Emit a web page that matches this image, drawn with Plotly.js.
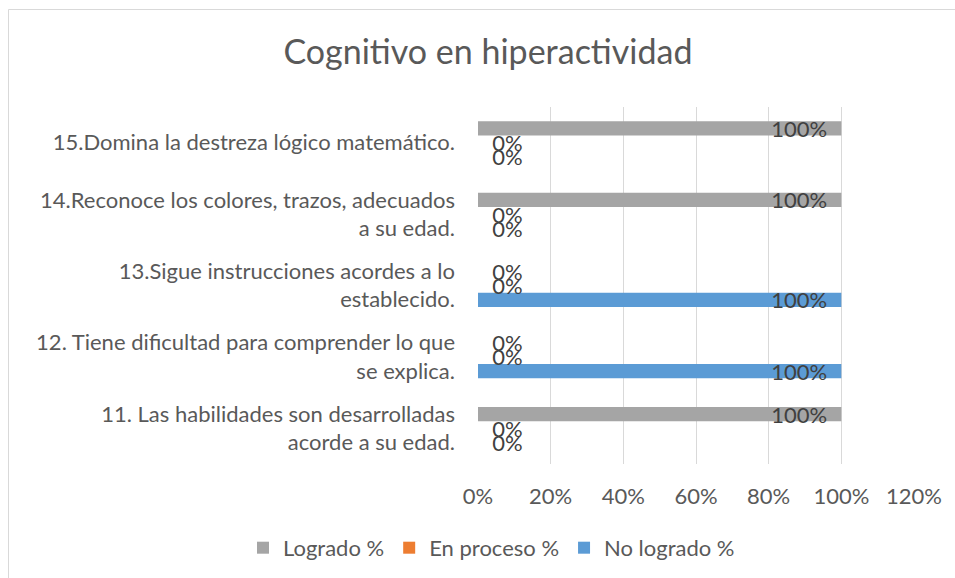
<!DOCTYPE html>
<html>
<head>
<meta charset="utf-8">
<script src="https://cdn.plot.ly/plotly-3.0.1.min.js"></script>
<style>html,body{margin:0;padding:0;background:#fff;}#chart{width:955px;height:578px;}</style>
</head>
<body>
<div id="chart"></div>
<script>
// Categories (bottom to top)
var categories = [
  "11. Las habilidades son desarrolladas<br>acorde a su edad.",
  "12. Tiene dificultad para comprender lo que<br>se explica.",
  "13.Sigue instrucciones acordes a lo<br>establecido.",
  "14.Reconoce los colores, trazos, adecuados<br>a su edad.",
  "15.Domina la destreza lógico matemático."
];
var logrado = [1.00, 0.00, 0.00, 1.00, 1.00];
var enProceso = [0.00, 0.00, 0.00, 0.00, 0.00];
var noLogrado = [0.00, 1.00, 1.00, 0.00, 0.00];
var xTickVals = [0, 0.2, 0.4, 0.6, 0.8, 1.0, 1.2];

function positions(vals){ return vals.map(function(v){ return v > 0 ? 'inside' : 'outside'; }); }
function templates(vals){ return vals.map(function(v){ return v > 0 ? '%{x:.0%}  ' : '  %{x:.0%}'; }); }

var FONT = 'Lato, sans-serif';
var common = {
  type: 'bar', orientation: 'h', y: categories,
  textfont: {family: FONT, size: 22, color: '#404040'},
  insidetextanchor: 'end',
  constraintext: 'none',
  cliponaxis: false,
  hoverinfo: 'none'
};

var traces = [
  Object.assign({}, common, {name: 'No logrado %', x: noLogrado, texttemplate: templates(noLogrado), textposition: positions(noLogrado), marker: {color: '#5b9bd5'}}),
  Object.assign({}, common, {name: 'En proceso %', x: enProceso, texttemplate: templates(enProceso), textposition: positions(enProceso), marker: {color: '#ed7d31'}}),
  Object.assign({}, common, {name: 'Logrado %', x: logrado, texttemplate: templates(logrado), textposition: positions(logrado), marker: {color: '#a5a5a5'}})
];

var layout = {
  width: 955, height: 578,
  paper_bgcolor: '#ffffff', plot_bgcolor: '#ffffff',
  margin: {l: 478, r: 41, t: 107, b: 114, autoexpand: false},
  font: {family: FONT, color: '#595959', size: 22},
  title: {text: 'Cognitivo en hiperactividad', font: {family: FONT, size: 34, color: '#595959'},
          x: 0.511, xanchor: 'center', y: 0.91, yanchor: 'middle', yref: 'container'},
  barmode: 'group', bargap: 0.4, bargroupgap: 0,
  xaxis: {range: [0, 1.2], tickvals: xTickVals, tickformat: '.0%', showgrid: true, gridcolor: '#d9d9d9', gridwidth: 1,
          zeroline: false, showline: false, ticks: '', ticklabelstandoff: 17,
          tickfont: {family: FONT, size: 22, color: '#595959'}, fixedrange: true},
  yaxis: {type: 'category', showgrid: false, zeroline: false, showline: false, ticks: '', ticklabelstandoff: 22,
          tickfont: {family: FONT, size: 22, color: '#595959'}, fixedrange: true},
  showlegend: true,
  legend: {orientation: 'h', traceorder: 'reversed', xref: 'paper', yref: 'paper',
           x: -0.539, xanchor: 'left', y: -0.235, yanchor: 'middle',
           font: {family: FONT, size: 22, color: '#595959'}, bgcolor: 'rgba(0,0,0,0)', itemwidth: 30},
  shapes: [{type: 'rect', xref: 'paper', yref: 'paper', x0: -1.0768, x1: 1.11, y0: -0.34, y1: 1.2731,
            line: {color: '#d9d9d9', width: 1}, fillcolor: 'rgba(0,0,0,0)', layer: 'below'}]
};

Plotly.newPlot('chart', traces, layout, {displayModeBar: false, staticPlot: true});
</script>
</body>
</html>
